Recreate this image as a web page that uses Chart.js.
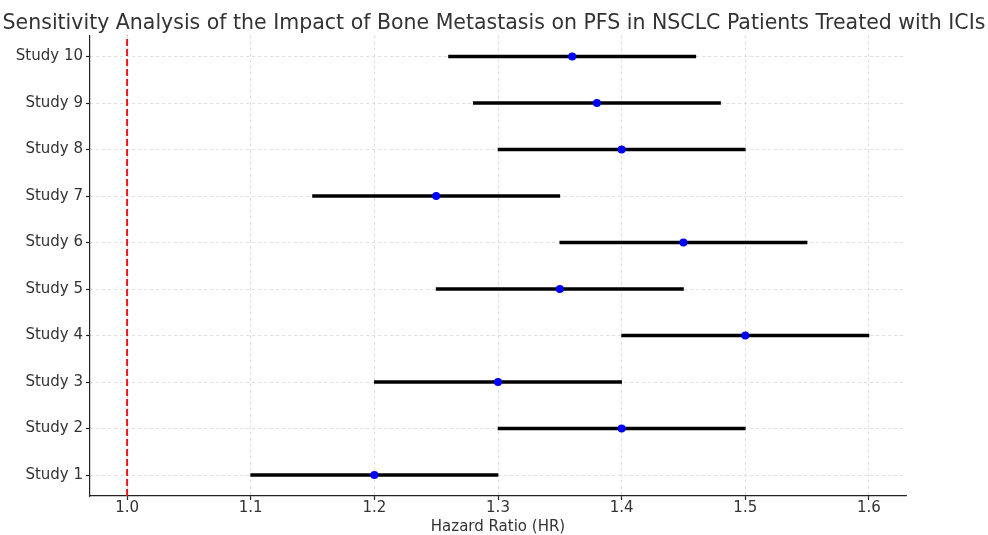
<!DOCTYPE html>
<html lang="en">
<head>
    <meta charset="UTF-8">
    <script src="https://cdn.jsdelivr.net/npm/chart.js"></script>
    <title>Sensitivity Analysis - Bone Metastasis and PFS</title>
    <style>
        html, body { margin: 0; padding: 0; background: #fff; }
        #wrap { width: 988px; height: 535px; }
    </style>
</head>
<body>
    <div id="wrap"><canvas id="forestChart" width="988" height="535"></canvas></div>
    <script>
        // study labels, bottom to top
        const studies = ["Study 1", "Study 2", "Study 3", "Study 4", "Study 5",
                         "Study 6", "Study 7", "Study 8", "Study 9", "Study 10"];
        const hazardRatio = [1.20, 1.40, 1.30, 1.50, 1.35, 1.45, 1.25, 1.40, 1.38, 1.36];
        const ciLower     = [1.10, 1.30, 1.20, 1.40, 1.25, 1.35, 1.15, 1.30, 1.28, 1.26];
        const ciUpper     = [1.30, 1.50, 1.40, 1.60, 1.45, 1.55, 1.35, 1.50, 1.48, 1.46];
        const xTicks = [1.0, 1.1, 1.2, 1.3, 1.4, 1.5, 1.6];
        const nullEffect = 1.0;

        const textColor = "#333333";
        const fontFamily = "'DejaVu Sans', sans-serif";

        function gridOpts() {
            return {
                offset: false,
                drawTicks: true,
                color: "#d6d6d6",
                lineWidth: 0.8,
                tickColor: "#222222",
                tickLength: 4,
                tickWidth: 1.2,
                tickBorderDash: []
            };
        }

        const ctx = document.getElementById("forestChart").getContext("2d");
        new Chart(ctx, {
            type: "bar",
            data: {
                datasets: [
                    {
                        // reference line at HR = 1
                        type: "line",
                        data: [{ x: nullEffect, y: -0.45 }, { x: nullEffect, y: studies.length - 0.55 }],
                        borderColor: "#e8191b",
                        borderWidth: 2,
                        borderDash: [7, 3],
                        pointRadius: 0,
                        order: 3
                    },
                    {
                        // confidence intervals
                        type: "bar",
                        indexAxis: "y",
                        data: studies.map((s, i) => ({ y: i, x: [ciLower[i], ciUpper[i]] })),
                        backgroundColor: "#000000",
                        barThickness: 2.8,
                        order: 2
                    },
                    {
                        // point estimates
                        type: "scatter",
                        data: studies.map((s, i) => ({ x: hazardRatio[i], y: i })),
                        backgroundColor: "#0000ff",
                        borderColor: "#0000ff",
                        pointRadius: 4,
                        borderWidth: 0,
                        order: 1
                    }
                ]
            },
            options: {
                responsive: false,
                animation: false,
                layout: { padding: 0 },
                plugins: {
                    legend: { display: false },
                    tooltip: { enabled: false },
                    title: {
                        display: true,
                        text: "Sensitivity Analysis of the Impact of Bone Metastasis on PFS in NSCLC Patients Treated with ICIs",
                        color: textColor,
                        font: { family: fontFamily, size: 20.5, weight: "normal" },
                        padding: { top: 11, bottom: 0 }
                    }
                },
                scales: {
                    x: {
                        type: "linear",
                        offset: false,
                        min: 0.97,
                        max: 1.63,
                        afterBuildTicks: s => { s.ticks = xTicks.map(v => ({ value: v })); },
                        afterFit: s => { s.height = 39; },
                        ticks: {
                            color: textColor,
                            font: { family: fontFamily, size: 15 },
                            padding: -1,
                            maxRotation: 0,
                            callback: v => Number(v).toFixed(1)
                        },
                        grid: gridOpts(),
                        border: { color: "#222222", width: 1.2, dash: [3, 3] },
                        title: {
                            display: true,
                            text: "Hazard Ratio (HR)",
                            color: textColor,
                            font: { family: fontFamily, size: 15 },
                            padding: { top: 0, bottom: -1 }
                        }
                    },
                    y: {
                        type: "linear",
                        offset: false,
                        min: -0.45,
                        max: studies.length - 0.55,
                        afterBuildTicks: s => { s.ticks = studies.map((_, i) => ({ value: i })); },
                        afterFit: s => { s.width = 90; },
                        ticks: {
                            color: textColor,
                            font: { family: fontFamily, size: 15 },
                            padding: 3,
                            callback: v => studies[v]
                        },
                        grid: gridOpts(),
                        border: { color: "#222222", width: 1.2, dash: [3, 3] }
                    },
                    // empty right-hand margin so the title stays centred on the figure
                    margin: {
                        type: "linear",
                        position: "right",
                        display: true,
                        afterFit: s => { s.width = 82; },
                        ticks: { display: false },
                        grid: { display: false, drawTicks: false },
                        border: { display: false }
                    }
                }
            }
        });
    </script>
</body>
</html>
